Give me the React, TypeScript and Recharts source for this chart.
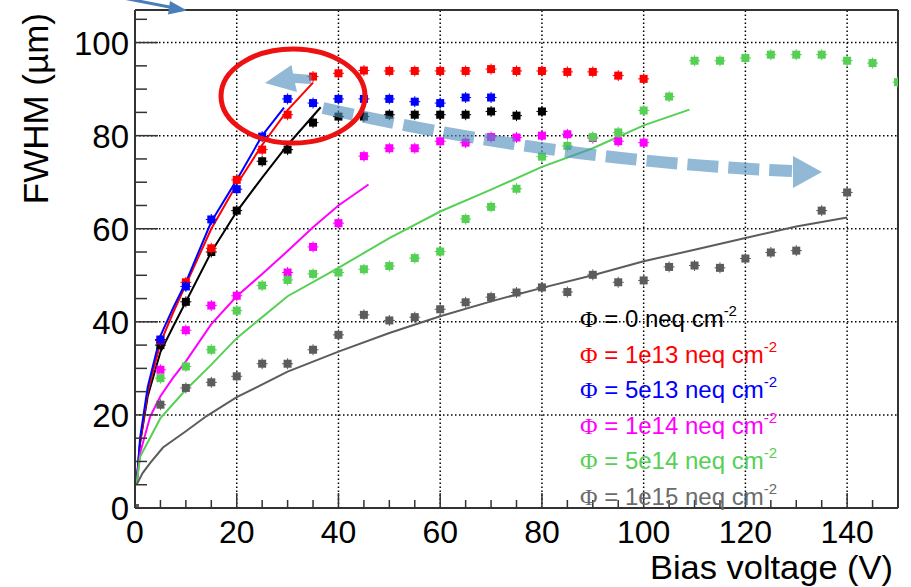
import React from 'react';
import { ComposedChart, Line, Scatter, XAxis, YAxis, ReferenceLine, Legend, Label } from 'recharts';

// ---------- data ----------
const fluenceLabels = ['0', '1e13', '5e13', '1e14', '5e14', '1e15'];
const seriesColors = ['#000000', '#ff0000', '#0000ff', '#ff00ff', '#55d055', '#5c5c5c'];
const legendColors = ['#000000', '#ff0000', '#0000ff', '#ff00ff', '#55d055', '#6b6b6b'];

// measured points (bias voltage V, FWHM um)
const voltBlack = [5, 10, 15, 20, 25, 30, 35, 40, 45, 50, 55, 60, 65, 70, 75, 80];
const fwhmBlack = [35, 44.3, 55, 63.9, 74.5, 77, 82.8, 84.1, 84.1, 84.5, 84.5, 84.5, 84.5, 85.2, 84.3, 85.2];

const voltRed = [5, 10, 15, 20, 25, 30, 35, 40, 45, 50, 55, 60, 65, 70, 75, 80, 85, 90, 95, 100];
const fwhmRed = [36, 48.5, 55.8, 70.5, 77, 84.5, 92.7, 93.4, 94, 93.9, 93.9, 93.9, 93.9, 94.3, 93.9, 93.9, 93.7, 93.7, 92.9, 92.2];

const voltBlue = [5, 10, 15, 20, 25, 30, 35, 40, 45, 50, 55, 60, 65, 70];
const fwhmBlue = [36.2, 47.6, 62, 68.5, 79.8, 87.9, 87, 87.9, 87.9, 87.9, 87.3, 87, 88.2, 88.2];

const voltMagenta = [5, 10, 15, 20, 30, 35, 40, 45, 50, 55, 60, 65, 70, 75, 80, 85, 90, 95, 100];
const fwhmMagenta = [29.7, 38.2, 43.5, 45.6, 50.6, 56.1, 61.2, 75.6, 77.3, 77.3, 78.8, 78.5, 79.7, 79.6, 80, 80.3, 79.5, 78.8, 78.5];

const voltGreen = [5, 10, 15, 20, 25, 30, 35, 40, 45, 50, 55, 60, 65, 70, 75, 80, 85, 90, 95, 100, 105, 110, 115, 120, 125, 130, 135, 140, 145, 150];
const fwhmGreen = [27.9, 30.4, 34, 42.4, 47.8, 49, 50.3, 50.6, 51.3, 52, 53.7, 55.1, 62.1, 64.7, 68.6, 75.5, 77.8, 79.7, 80.7, 85.4, 88.4, 96.1, 96.1, 96.7, 97.4, 97.4, 97.4, 96.1, 95.6, 91.5];

const voltGray = [0, 5, 10, 15, 20, 25, 30, 35, 40, 45, 50, 55, 60, 65, 70, 75, 80, 85, 90, 95, 100, 105, 110, 115, 120, 125, 130, 135, 140];
const fwhmGray = [0, 22.2, 25.8, 27, 28.3, 31, 31, 34, 37.2, 41.5, 40.3, 41, 42.7, 44.2, 45.3, 46.3, 47.4, 46.4, 50.1, 48.5, 48.9, 51.8, 52.1, 51.6, 53.6, 54.9, 55.3, 63.9, 67.8];

// fit curves
const fitVoltBlack = [0.3, 1, 2.5, 5, 7.5, 10, 15, 20, 25, 30, 36.5];
const fitBlack = [5, 14, 24, 33.5, 39, 44.3, 55, 63.7, 71, 78, 86.1];

const fitVoltRed = [0.3, 1, 2.5, 5, 7.5, 10, 15, 20, 25, 30, 35];
const fitRed = [5, 14, 25, 35.5, 42, 48, 60, 69.5, 78, 85.5, 91.4];

const fitVoltBlue = [0.3, 1, 2.5, 5, 7.5, 10, 15, 20, 25, 29.3];
const fitBlue = [5, 15, 26, 37, 43, 48.5, 61.5, 70.5, 80, 86];

const fitVoltMagenta = [0.3, 1, 3, 5, 7.5, 10, 15, 20, 25, 30, 35, 40, 45.9];
const fitMagenta = [5, 11.8, 19.7, 24, 28, 31.5, 39.5, 45.5, 50.3, 55.2, 60.3, 65, 69.5];

const fitVoltGreen = [0.3, 1, 5, 10, 15, 20, 30, 40, 50, 60, 70, 80, 90, 100, 109];
const fitGreen = [5, 11, 19.3, 25.4, 30.8, 36.5, 45.5, 51.6, 58, 63.7, 68.4, 73.3, 77.3, 82.2, 85.6];

const fitVoltGray = [0.3, 1.5, 3, 5.5, 10, 14, 20, 30, 40, 50, 60, 70, 80, 90, 100, 110, 120, 130, 140];
const fitGray = [5, 7.5, 9.7, 13, 16.5, 19.7, 23.8, 29.3, 33.6, 37.6, 41.2, 44.4, 47.3, 50, 53, 55.5, 58, 60.5, 62.4];

const xTicks = [0, 5, 10, 15, 20, 25, 30, 35, 40, 45, 50, 55, 60, 65, 70, 75, 80, 85, 90, 95, 100, 105, 110, 115, 120, 125, 130, 135, 140, 145];
const yTicks = [0, 5, 10, 15, 20, 25, 30, 35, 40, 45, 50, 55, 60, 65, 70, 75, 80, 85, 90, 95, 100, 105];
const xGrid = [20, 40, 60, 80, 100, 120, 140];
const yGrid = [20, 40, 60, 80, 100];

const xTitle = 'Bias voltage (V)';
const yTitle = 'FWHM (\u00b5m)';

// ---------- helpers ----------
const pts = (v: number[], y: number[]) => v.map((x, i) => ({ v: x, y: y[i] }));

const series = [
  { pv: voltBlack, py: fwhmBlack, fv: fitVoltBlack, fy: fitBlack },
  { pv: voltRed, py: fwhmRed, fv: fitVoltRed, fy: fitRed },
  { pv: voltBlue, py: fwhmBlue, fv: fitVoltBlue, fy: fitBlue },
  { pv: voltMagenta, py: fwhmMagenta, fv: fitVoltMagenta, fy: fitMagenta },
  { pv: voltGreen, py: fwhmGreen, fv: fitVoltGreen, fy: fitGreen },
  { pv: voltGray, py: fwhmGray, fv: fitVoltGray, fy: fitGray },
].map((s, i) => ({
  name: fluenceLabels[i],
  color: seriesColors[i],
  points: pts(s.pv, s.py),
  fit: pts(s.fv, s.fy),
}));

const FONT = '"Liberation Sans", Arial, Helvetica, sans-serif';
const AXIS = '#333333';

const XTick = (props: any) => {
  const { x, y, payload } = props;
  const v = payload.value;
  const major = v % 20 === 0;
  return (
    <g>
      <line x1={x} x2={x} y1={y} y2={y - (major ? 15 : 8)} stroke={AXIS} strokeWidth={1.5} />
      {major && (
        <text x={x} y={y + 35} textAnchor="middle" fontSize={32} fontFamily={FONT} fill="#000">
          {v}
        </text>
      )}
    </g>
  );
};

const YTick = (props: any) => {
  const { x, y, payload } = props;
  const v = payload.value;
  const major = v % 20 === 0;
  return (
    <g>
      <line x1={x} x2={x + (major ? 23 : 12)} y1={y} y2={y} stroke={AXIS} strokeWidth={1.5} />
      {major && (
        <text x={x - 6} y={y + 12} textAnchor="end" fontSize={33} fontFamily={FONT} fill="#000">
          {v}
        </text>
      )}
    </g>
  );
};

const makeMarker = (color: string) => (props: any) => {
  const { cx, cy } = props;
  if (cx == null || cy == null) return <g />;
  return (
    <g>
      <line x1={cx - 5.5} x2={cx + 5.5} y1={cy} y2={cy} stroke={color} strokeWidth={1} />
      <line x1={cx} x2={cx} y1={cy - 5.5} y2={cy + 5.5} stroke={color} strokeWidth={1} />
      <rect x={cx - 4} y={cy - 4} width={8} height={8} fill={color} />
    </g>
  );
};

const LegendContent = () => (
  <div style={{ fontFamily: FONT, fontSize: 24, lineHeight: '32.5px', whiteSpace: 'nowrap' }}>
    {fluenceLabels.map((label, idx) => (
      <div key={label} style={{ color: legendColors[idx] }}>
        <span style={{ fontFamily: '"Liberation Serif", "DejaVu Serif", serif' }}>{'\u03a6'}</span>
        {' = ' + label + ' neq cm'}
        <span style={{ fontSize: 15, position: 'relative', top: -11 }}>-2</span>
      </div>
    ))}
  </div>
);

const XTitle = (props: any) => {
  const vb = props.viewBox || { x: 135, y: 508, width: 763, height: 60 };
  return (
    <text
      x={vb.x + vb.width - 248}
      y={vb.y + 71}
      textLength={243}
      lengthAdjust="spacingAndGlyphs"
      fontSize={33}
      fontFamily={FONT}
      fill="#000"
    >
      {xTitle}
    </text>
  );
};

const YTitle = (props: any) => {
  const vb = props.viewBox || { x: 35, y: 10, width: 100, height: 498 };
  const x = vb.x + 13;
  const y = vb.y + 3;
  return (
    <text x={x} y={y} transform={`rotate(-90, ${x}, ${y})`} textAnchor="end" fontSize={35} fontFamily={FONT} fill="#000">
      {yTitle}
    </text>
  );
};

const Annotations = () => (
  <svg width={911} height={587} style={{ position: 'absolute', left: 0, top: 0, pointerEvents: 'none', overflow: 'visible' }}>
    {/* dark blue arrow top-left */}
    <line x1={118} y1={-3} x2={172} y2={7.5} stroke="#4a7ebb" strokeWidth={3} />
    <polygon points="187,10.5 170,1 168,14.5" fill="#4a7ebb" />
    {/* light blue arrows */}
    <g opacity={0.62}>
      <polygon points="265,83 291.5,65 293,73.5 312,75 311,84 295,83 297,92" fill="#4f8fbd" />
      <path d="M 323 108 Q 558 161 792 171" stroke="#4f8fbd" strokeWidth={12} strokeDasharray="31 10" fill="none" />
      <polygon points="793,156 822,172 793,188" fill="#4f8fbd" />
    </g>
    {/* red ellipse */}
    <ellipse cx={293} cy={96} rx={72} ry={47} fill="none" stroke="#ee1111" strokeWidth={5} />
  </svg>
);

export default function App() {
  return (
    <div style={{ position: 'absolute', left: 0, top: 0, width: 911, height: 587, background: '#fff', overflow: 'hidden' }}>
      <ComposedChart width={911} height={587} margin={{ top: 10, right: 13, bottom: 19, left: 35 }}>
        <XAxis
          type="number"
          dataKey="v"
          domain={[0, 150]}
          ticks={xTicks}
          interval={0}
          tickSize={0}
          tickMargin={0}
          tickLine={false}
          tick={XTick}
          axisLine={{ stroke: AXIS, strokeWidth: 2 }}
          height={60}
          allowDataOverflow
        >
          <Label content={XTitle} />
        </XAxis>
        <YAxis
          type="number"
          dataKey="y"
          domain={[0, 107]}
          ticks={yTicks}
          interval={0}
          tickSize={0}
          tickMargin={0}
          tickLine={false}
          tick={YTick}
          axisLine={{ stroke: AXIS, strokeWidth: 2 }}
          width={100}
          allowDataOverflow
        >
          <Label content={YTitle} />
        </YAxis>
        {xGrid.map((g) => (
          <ReferenceLine key={'gx' + g} x={g} stroke="#000" strokeWidth={1.5} strokeDasharray="1.5 2.5" />
        ))}
        {yGrid.map((g) => (
          <ReferenceLine key={'gy' + g} y={g} stroke="#000" strokeWidth={1.5} strokeDasharray="1.5 2.5" />
        ))}
        <ReferenceLine y={107} stroke={AXIS} strokeWidth={2} />
        <ReferenceLine x={150} stroke={AXIS} strokeWidth={2} />
        {series.map((s) => (
          <Scatter
            key={'p' + s.name}
            name={s.name}
            data={s.points}
            dataKey="y"
            fill={s.color}
            shape={makeMarker(s.color)}
            isAnimationActive={false}
            legendType="square"
          />
        ))}
        {series.map((s) => (
          <Line
            key={'f' + s.name}
            name={'fit ' + s.name}
            data={s.fit}
            dataKey="y"
            type="linear"
            stroke={s.color}
            strokeWidth={2}
            dot={false}
            activeDot={false}
            legendType="none"
            isAnimationActive={false}
          />
        ))}
        <Legend
          layout="vertical"
          align="center"
          verticalAlign="middle"
          content={LegendContent}
          wrapperStyle={{ position: 'absolute', left: 580, top: 303, width: 260, height: 200 }}
        />
      </ComposedChart>
      <Annotations />
    </div>
  );
}
